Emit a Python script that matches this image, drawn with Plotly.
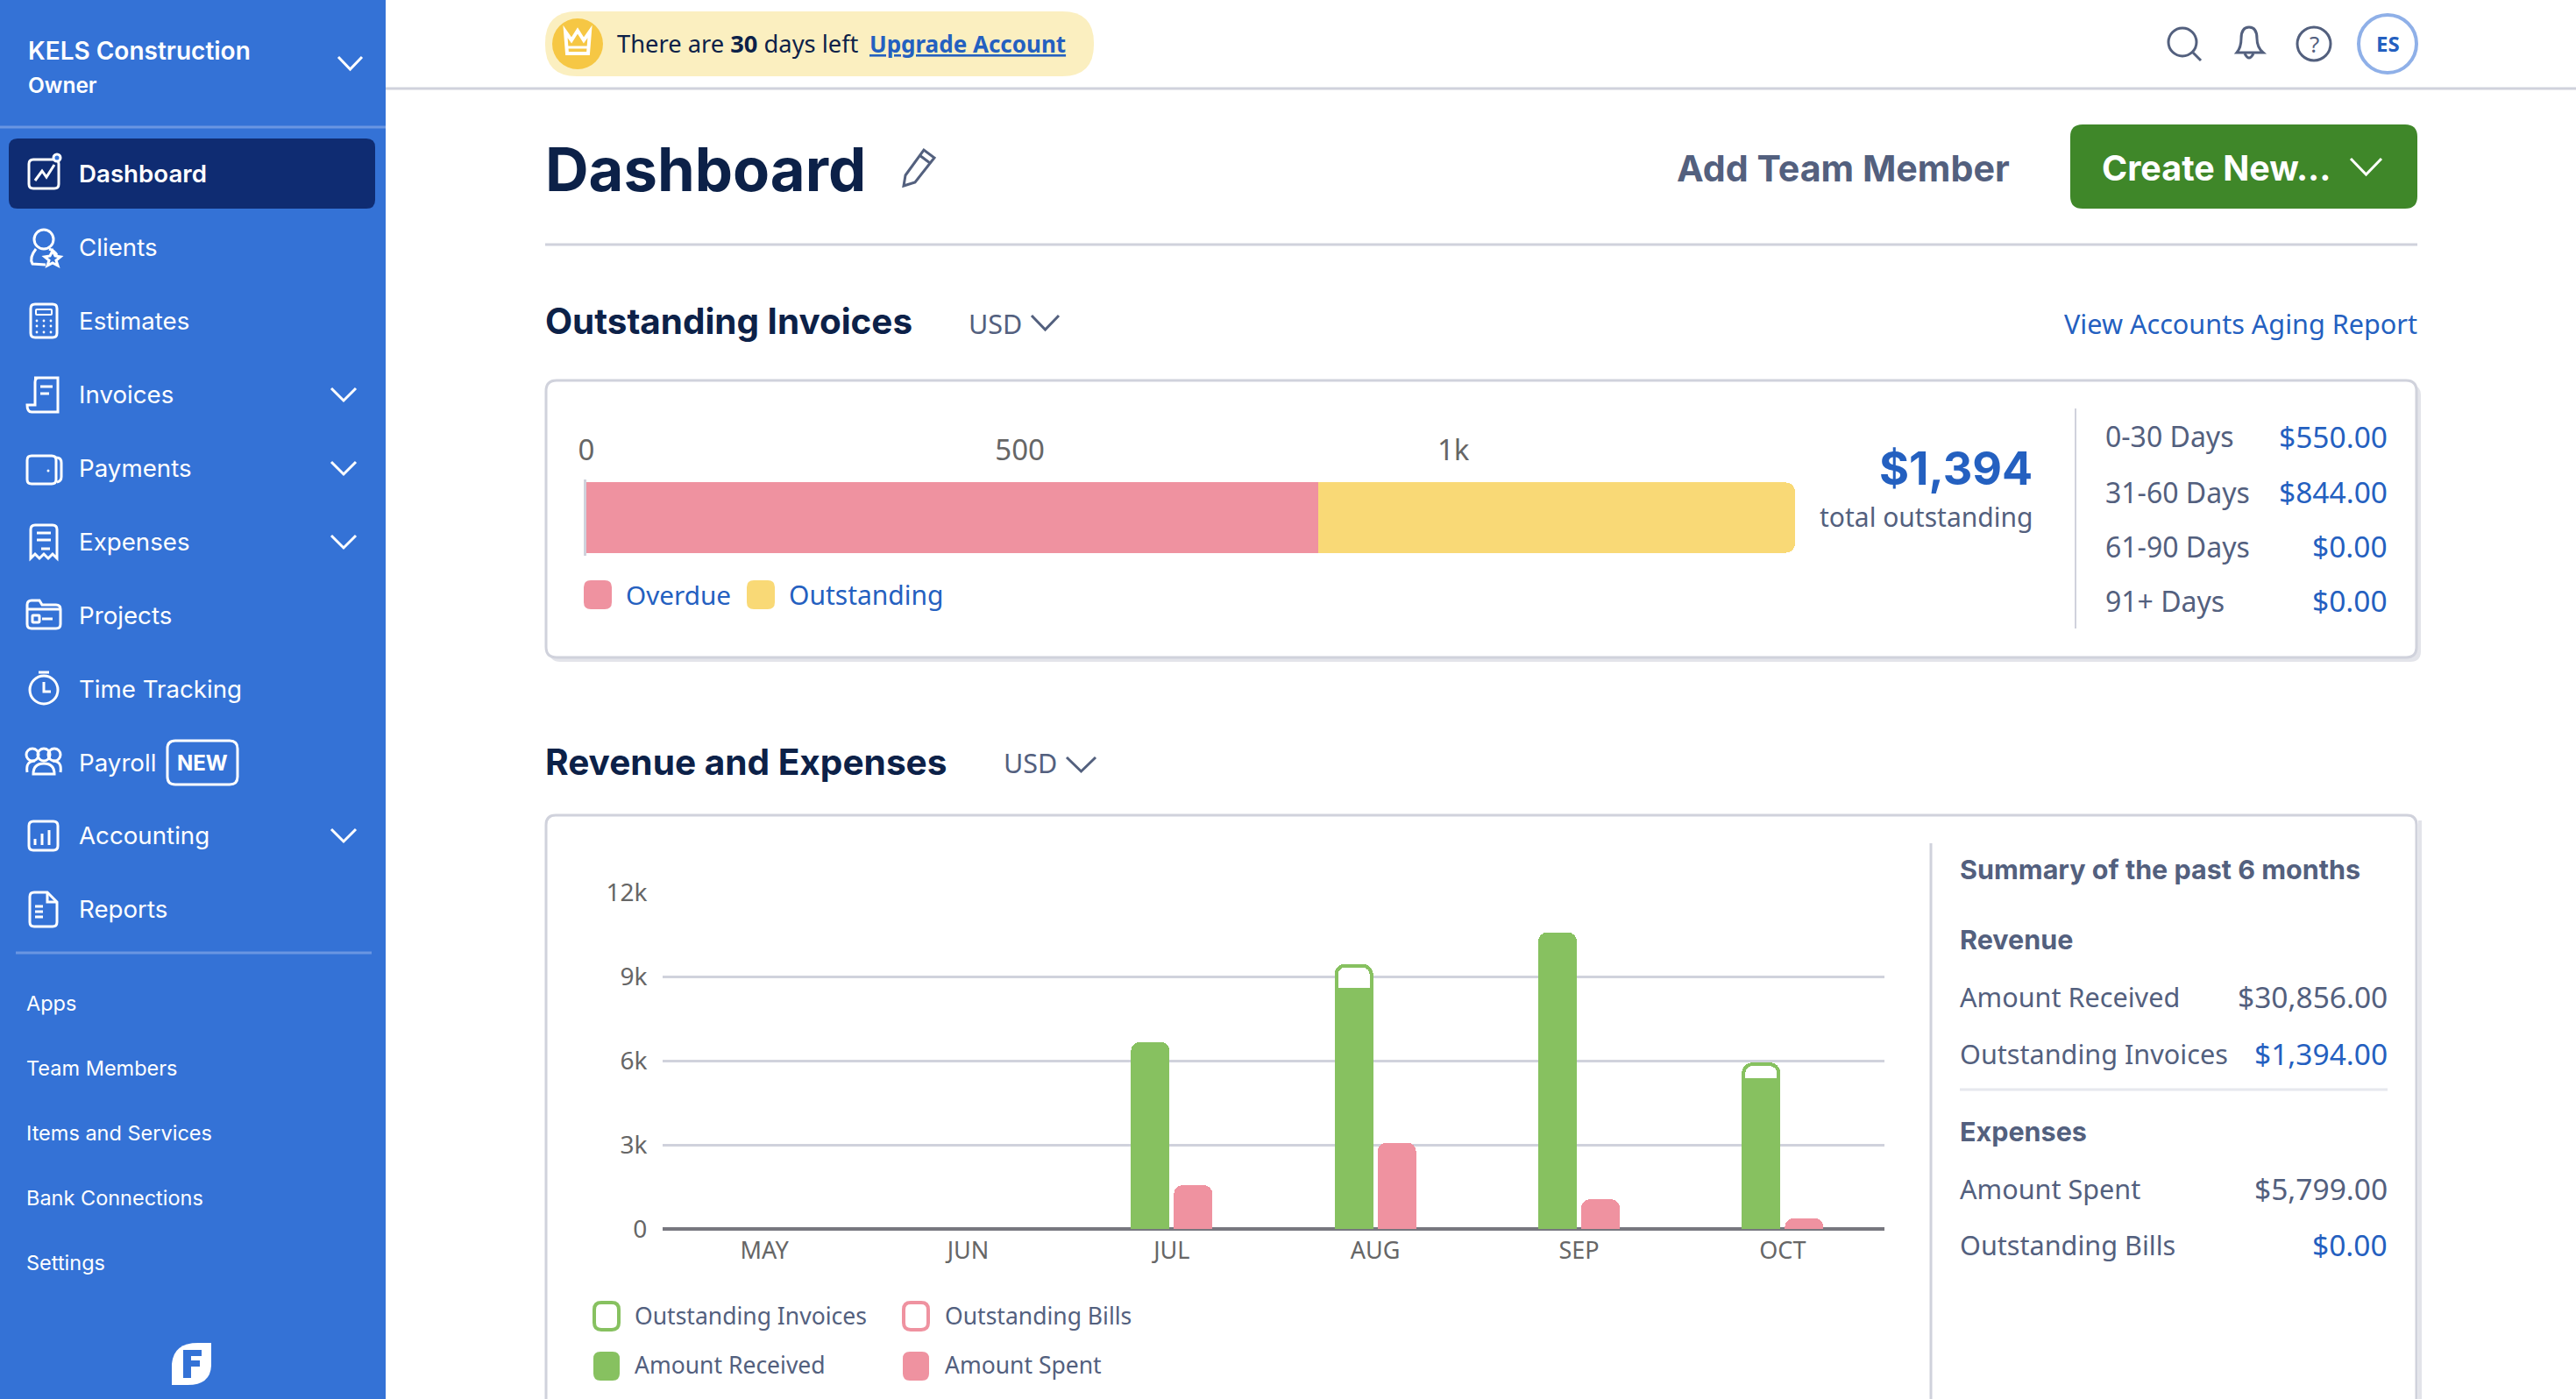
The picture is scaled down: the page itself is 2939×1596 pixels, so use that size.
import re
import plotly.graph_objects as go

W, H = 2939, 1596

# ---- data ----
months = ["MAY", "JUN", "JUL", "AUG", "SEP", "OCT"]
amount_received = [0, 0, 6660, 8540, 10570, 5320]
outstanding_invoices = [0, 0, 0, 844, 0, 550]
amount_spent = [0, 0, 1560, 3070, 1060, 380]
outstanding_bills = [0, 0, 0, 0, 0, 0]
rev_ticks = [0, 3000, 6000, 9000, 12000]

aging_category = ["Invoices"]
overdue = [844]
outstanding = [550]
aging_ticks = [0, 500, 1000]
aging_total = 1394

aging_labels = ["0-30 Days", "31-60 Days", "61-90 Days", "91+ Days"]
aging_values = ["$550.00", "$844.00", "$0.00", "$0.00"]

nav_items = ["Dashboard", "Clients", "Estimates", "Invoices", "Payments", "Expenses",
             "Projects", "Time Tracking", "Payroll", "Accounting", "Reports"]
nav_expandable = ["Invoices", "Payments", "Expenses", "Accounting"]
nav_secondary = ["Apps", "Team Members", "Items and Services", "Bank Connections", "Settings"]

# ---- palette ----
SIDE = "#3472D6"
NAVY = "#0F2C72"
INK = "#0C2148"
SLATE = "#53607E"
LINK = "#2460C0"
GRID = "#D0D2DC"
GREEN = "#87C160"
PINK = "#EF92A0"
YELLOW = "#F9D976"
TICK = "#666666"
BODY = "Noto Sans"
HEAD = "Inter"


def fx(x):
    return x / W


def fy(y):
    return 1 - y / H


shapes = []
annots = []


def path(d, line=None, fill=None, lw=3, layer="above"):
    toks = re.findall(r"[MLQCZ]|-?\d+\.?\d*", d)
    out, isx = [], True
    for t in toks:
        if t in "MLQCZ":
            out.append(t)
            isx = True
        else:
            out.append(f"{fx(float(t)):.6f}" if isx else f"{fy(float(t)):.6f}")
            isx = not isx
    s = " ".join(out)
    s = re.sub(r"([MLQC]) ", r"\1", s)
    shapes.append(dict(type="path", xref="paper", yref="paper", path=s, layer=layer,
                       fillcolor=fill if fill else "rgba(0,0,0,0)",
                       line=dict(color=line if line else "rgba(0,0,0,0)", width=lw if line else 0)))


def rrect(x0, y0, x1, y1, r, line=None, fill=None, lw=3, layer="above"):
    path(f"M{x0+r} {y0} L{x1-r} {y0} Q{x1} {y0} {x1} {y0+r} L{x1} {y1-r} Q{x1} {y1} {x1-r} {y1} "
         f"L{x0+r} {y1} Q{x0} {y1} {x0} {y1-r} L{x0} {y0+r} Q{x0} {y0} {x0+r} {y0} Z",
         line, fill, lw, layer)


def circle(cx, cy, r, line=None, fill=None, lw=3):
    shapes.append(dict(type="circle", xref="paper", yref="paper", layer="above",
                       x0=fx(cx - r), x1=fx(cx + r), y0=fy(cy + r), y1=fy(cy - r),
                       fillcolor=fill if fill else "rgba(0,0,0,0)",
                       line=dict(color=line if line else "rgba(0,0,0,0)", width=lw if line else 0)))


def hline(x0, x1, y, color=GRID, lw=3):
    path(f"M{x0} {y} L{x1} {y}", color, None, lw)


def vline(x, y0, y1, color=GRID, lw=3):
    path(f"M{x} {y0} L{x} {y1}", color, None, lw)


def chevron(x0, x1, y0, y1, color, lw=3):
    path(f"M{x0} {y0} L{(x0+x1)/2} {y1} L{x1} {y0}", color, None, lw)


def text(x, y, s, size, color=SLATE, family=BODY, weight=400, anchor="left", **fontkw):
    annots.append(dict(x=fx(x), y=fy(y), xref="paper", yref="paper", text=s, showarrow=False,
                       xanchor=anchor, yanchor="middle", borderpad=0, borderwidth=0,
                       font=dict(size=size, color=color, family=family, weight=weight, **fontkw)))


# ---- sidebar ----
rrect(-6, -6, 440, H + 6, 1, None, SIDE)
text(32, 58, "KELS Construction", 28, "white", HEAD, 600)
text(32, 97, "Owner", 24.5, "white", HEAD, 600)
chevron(386, 413, 65, 79, "white")
hline(0, 440, 145, "#6A96E2", 3)
rrect(10, 158, 428, 238, 10, None, NAVY)

nav_y = [198, 282, 366, 450, 534, 618, 702, 786, 870, 953, 1037]
for name, y in zip(nav_items, nav_y):
    text(90, y, name, 27.7, "white", HEAD, 600 if name == "Dashboard" else 400)
    if name in nav_expandable:
        chevron(378, 406, y - 7, y + 7, "white")
rrect(191, 845, 271, 895, 9, "white", None, 3)
text(231, 870, "NEW", 24, "white", HEAD, 700, "center")

# nav icons
rrect(33, 182, 67, 215, 5, "white")
path("M40 206 L48 195 L53 202 L62 188", "white")
circle(65, 180, 4, "white", SIDE)
circle(50, 273, 11, "white")
path("M41 284 Q33 294 37 301 L52 302 M56 284 Q62 286 65 291", "white")
path("M60 286 L63 292 L69 293 L64 297 L66 303 L60 300 L54 303 L56 297 L51 293 L57 292 Z", "white", SIDE, 3)
rrect(35, 347, 65, 385, 5, "white")
rrect(41, 353, 59, 359, 1, "white", None, 2)
for dx in (42, 50, 58):
    for dy in (366, 372, 379):
        circle(dx, dy, 1.4, None, "white")
path("M39 431 L66 431 L66 470 L36 470 Q31 470 31 462 L40 462 L40 436 Q40 431 44 431 Z", "white")
hline(46, 60, 441, "white", 3)
hline(46, 56, 449, "white", 3)
rrect(31, 520, 64, 552, 5, "white")
path("M64 522 Q70 522 70 528 L70 544 Q70 549 65 550", "white")
circle(55, 537, 1.5, None, "white")
path("M35 637 L35 604 Q35 599 40 599 L60 599 Q65 599 65 604 L65 637 L60 632 L55 637 L50 632 L45 637 L40 632 Z", "white")
hline(42, 58, 608, "white", 3)
hline(42, 58, 616, "white", 3)
hline(47, 57, 626, "white", 3)
path("M31 690 Q31 685 36 685 L45 685 L48 690 L64 690 Q69 690 69 695 L69 712 Q69 717 64 717 L36 717 Q31 717 31 712 Z", "white")
hline(32, 68, 695, "white", 3)
rrect(37, 702, 45, 710, 1, "white", None, 3)
hline(48, 60, 706, "white", 3)
circle(50, 787, 16, "white")
hline(44, 56, 767, "white", 3)
path("M50 778 L50 789 L58 789", "white")
for cx in (37, 50, 62):
    circle(cx, 861, 7, "white")
path("M31 881 Q29 868 40 868 M69 881 Q71 868 60 868 M38 883 Q38 871 50 871 Q62 871 62 883 Z", "white")
rrect(33, 937, 66, 970, 5, "white")
for bx, top in ((40, 957), (48, 951), (56, 947)):
    path(f"M{bx} {top} L{bx} 964", "white", None, 3)
path("M34 1023 Q34 1018 39 1018 L54 1018 L65 1029 L65 1052 Q65 1057 60 1057 L39 1057 Q34 1057 34 1052 Z", "white")
path("M54 1018 L54 1029 L65 1029", "white")
for ly in (1034, 1040, 1046):
    hline(40, 49, ly, "white", 3)

hline(18, 424, 1087, "#6A96E2", 3)
for name, y in zip(nav_secondary, [1144, 1218, 1292, 1366, 1440]):
    text(30, y, name, 23.5, "white", HEAD, 400)
path("M196 1580 L196 1556 Q198 1532 226 1532 L241 1532 L241 1558 Q240 1580 214 1580 Z", None, "white")
path("M209 1540 L230 1540 L230 1547 L218 1547 L218 1552 L228 1552 L228 1559 L218 1559 L218 1572 L209 1572 Z", None, SIDE)

# ---- top bar ----
hline(440, W, 101, GRID, 3)
rrect(622, 13, 1248, 87, 36, None, "#FBEFC0")
circle(659, 50, 29, None, "#F6C744")
path("M645 36 L652 46 L659 35 L666 46 L673 36 L671 61 L647 61 Z", "white", None, 4)
hline(648, 670, 54, "white", 3)
text(704, 50, "There are <b>30</b> days left", 27.3, INK)
text(992, 50, "<b>Upgrade Account</b>", 26, LINK, BODY, 400, lineposition="under")
circle(2490, 48, 16, SLATE)
path("M2502 60 L2511 69", SLATE)
path("M2552 60 Q2557 54 2557 44 Q2557 31 2566 31 Q2575 31 2575 44 Q2575 54 2582 60 Z", SLATE)
path("M2561 61 Q2566 71 2571 61", SLATE)
circle(2640, 50, 19, SLATE)
text(2640, 50, "?", 26, SLATE, BODY, 400, "center")
circle(2724, 50, 33, "#8FB0E8", None, 4)
text(2724, 50, "ES", 24, LINK, BODY, 700, "center")

# ---- page title row ----
text(622, 193, "Dashboard", 68.7, INK, HEAD, 700)
path("M1033 200 L1054 171 L1066 180 L1044 208 L1031 212 Z", SLATE, None, 3)
path("M1049 177 L1061 186", SLATE, None, 3)
text(2293, 192, "Add Team Member", 41.2, SLATE, HEAD, 700, "right")
rrect(2362, 142, 2758, 238, 14, None, "#3F8729")
text(2398, 192, "Create New...", 39.5, "white", HEAD, 700)
chevron(2682, 2717, 181, 199, "white")
hline(622, 2758, 279, GRID, 3)

# ---- outstanding invoices section ----
text(622, 366, "Outstanding Invoices", 40.4, INK, HEAD, 700)
text(1105, 369, "USD", 30.5, SLATE)
chevron(1177, 1208, 360, 376, SLATE)
text(2758, 369, "View Accounts Aging Report", 30.6, LINK, BODY, 400, "right")

rrect(627, 439, 2762, 755, 12, None, "#E3E4EA", layer="below")
rrect(623, 434, 2757, 750, 12, GRID, "white", layer="below")

rrect(666, 662, 698, 695, 8, None, PINK)
text(714, 678, "Overdue", 29.7, LINK)
rrect(852, 662, 884, 695, 8, None, YELLOW)
text(900, 678, "Outstanding", 30, LINK)

text(2319, 534, f"${aging_total:,}", 52, LINK, HEAD, 700, "right")
text(2319, 589, "total outstanding", 30, SLATE, BODY, 400, "right")
vline(2368, 466, 717, GRID, 2)
for label, value, y in zip(aging_labels, aging_values, [498, 561, 623, 685]):
    text(2402, y, label, 32, SLATE)
    text(2724, y, value, 33.5, LINK, BODY, 400, "right")

# ---- revenue and expenses section ----
text(622, 869, "Revenue and Expenses", 40.6, INK, HEAD, 700)
text(1145, 870, "USD", 30.5, SLATE)
chevron(1217, 1250, 864, 880, SLATE)

path("M623 1620 L623 941 Q623 930 634 930 L2746 930 Q2757 930 2757 941 L2757 1620", GRID, None, 3)
path("M2761 936 L2761 1620", "#E3E4EA", None, 4)
vline(2203, 962, 1620, GRID, 3)

text(2236, 991, "Summary of the past 6 months", 30.5, SLATE, HEAD, 700)
text(2236, 1071, "Revenue", 30.5, SLATE, HEAD, 700)
text(2236, 1137, "Amount Received", 30.6, SLATE)
text(2724, 1137, "$30,856.00", 33.5, SLATE, BODY, 400, "right")
text(2236, 1202, "Outstanding Invoices", 30.6, SLATE)
text(2724, 1202, "$1,394.00", 33.5, LINK, BODY, 400, "right")
hline(2236, 2724, 1243, "#E6E8EE", 3)
text(2236, 1290, "Expenses", 30.5, SLATE, HEAD, 700)
text(2236, 1356, "Amount Spent", 30.6, SLATE)
text(2724, 1356, "$5,799.00", 33.5, SLATE, BODY, 400, "right")
text(2236, 1420, "Outstanding Bills", 30.6, SLATE)
text(2724, 1420, "$0.00", 33.5, LINK, BODY, 400, "right")

# custom legend of the revenue chart
rrect(678, 1486, 706, 1517, 8, GREEN, "white", 4)
text(724, 1501, "Outstanding Invoices", 26.5)
rrect(1031, 1486, 1059, 1517, 8, PINK, "white", 4)
text(1078, 1501, "Outstanding Bills", 26.5)
rrect(677, 1542, 707, 1575, 8, None, GREEN)
text(724, 1557, "Amount Received", 26.5)
rrect(1030, 1542, 1060, 1575, 8, None, PINK)
text(1078, 1557, "Amount Spent", 26.5)


def present(values):
    """Bars of zero height are left out altogether."""
    return [v if v else None for v in values]


# ---- charts ----
fig = go.Figure()

fig.add_bar(name="Amount Received", x=months, y=present(amount_received), offsetgroup="rev",
            marker=dict(color=GREEN, line=dict(width=0)))
fig.add_bar(name="Outstanding Invoices", x=months, y=present(outstanding_invoices), offsetgroup="rev",
            width=0.172, marker=dict(color="white", line=dict(color=GREEN, width=4)))
fig.add_bar(name="Amount Spent", x=months, y=present(amount_spent), offsetgroup="exp",
            marker=dict(color=PINK, line=dict(width=0)))
fig.add_bar(name="Outstanding Bills", x=months, y=present(outstanding_bills), offsetgroup="exp",
            width=0.172, marker=dict(color="white", line=dict(color=PINK, width=4)))

fig.add_bar(name="Overdue", y=aging_category, x=overdue, orientation="h", width=0.92,
            xaxis="x2", yaxis="y2", marker=dict(color=PINK, line=dict(width=0)))
fig.add_bar(name="Outstanding", y=aging_category, x=outstanding, orientation="h", width=0.92,
            xaxis="x2", yaxis="y2", marker=dict(color=YELLOW, line=dict(width=0)))

fig.update_layout(
    width=W, height=H, margin=dict(l=0, r=0, t=0, b=0, pad=0, autoexpand=False),
    paper_bgcolor="white", plot_bgcolor="rgba(0,0,0,0)", showlegend=False,
    barmode="stack", bargap=0.578, bargroupgap=0.1, barcornerradius=10,
    hovermode=False, shapes=shapes, annotations=annots,
    font=dict(family=BODY, color=TICK),
    xaxis=dict(domain=[fx(756), fx(2150)], anchor="y", type="category", categoryorder="array",
               categoryarray=months, showgrid=False, zeroline=False, showline=False,
               ticks="outside", ticklen=1, tickcolor="rgba(0,0,0,0)",
               tickfont=dict(size=27, color=TICK, family=BODY), fixedrange=True),
    yaxis=dict(domain=[fy(1402), fy(1018)], anchor="x", range=[0, 12000], tickvals=rev_ticks,
               tickformat="~s", showgrid=True, gridcolor=GRID, gridwidth=2.5,
               zeroline=True, zerolinecolor="#77777F", zerolinewidth=4, showline=False,
               ticks="outside", ticklen=11, tickcolor="rgba(0,0,0,0)",
               tickfont=dict(size=28, color=TICK, family=BODY), fixedrange=True),
    xaxis2=dict(domain=[fx(669), fx(2048)], anchor="y2", side="top", range=[0, aging_total],
                tickvals=aging_ticks, tickformat="~s", showgrid=False, zeroline=False,
                ticks="outside", ticklen=8, tickcolor="rgba(0,0,0,0)",
                tickfont=dict(size=33, color=TICK, family=BODY), fixedrange=True),
    yaxis2=dict(domain=[fy(634), fy(547)], anchor="x2", type="category", range=[-0.5, 0.5],
                showticklabels=False, ticks="", showgrid=False, zeroline=False,
                showline=True, linecolor=GRID, linewidth=3, fixedrange=True),
)

fig.write_html("out.html", config=dict(displayModeBar=False, responsive=False),
               post_script="document.body.style.margin='0';document.body.style.overflow='hidden';")
